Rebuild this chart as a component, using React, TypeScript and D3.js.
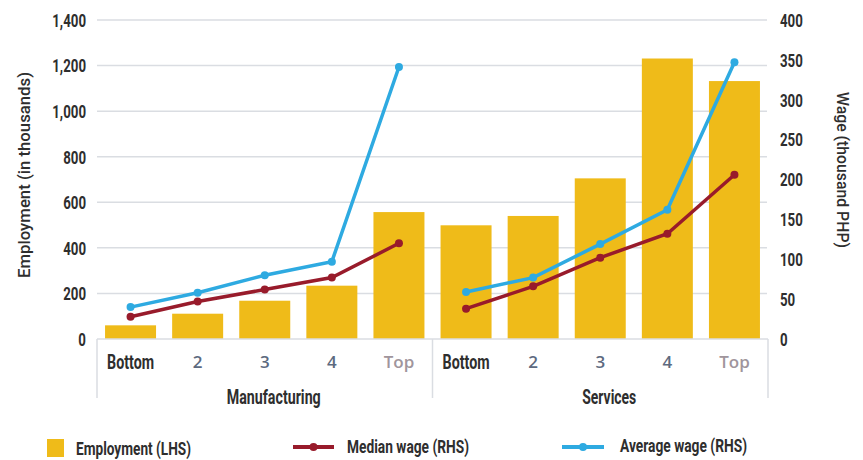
import React from "react";
import * as d3 from "d3";

const categories = ["Bottom", "2", "3", "4", "Top"];
const groups = ["Manufacturing", "Services"];
const employmentManufacturing = [60, 111, 168, 234, 557];
const employmentServices = [499, 540, 705, 1231, 1132];
const medianWageManufacturing = [28, 47, 62, 77, 120];
const medianWageServices = [38, 66, 102, 132, 206];
const averageWageManufacturing = [40, 58, 80, 97, 341];
const averageWageServices = [59, 77, 119, 162, 347];
const leftTicks = [0, 200, 400, 600, 800, 1000, 1200, 1400];
const rightTicks = [0, 50, 100, 150, 200, 250, 300, 350, 400];

const W = 863;
const H = 460;
const COND = "Roboto, 'DejaVu Sans', sans-serif";
const PLAIN = "'Open Sans', Roboto, sans-serif";
const YELLOW = "#EFBB19";
const RED = "#981B2B";
const BLUE = "#2EAAE1";
const GRID = "#DADDE2";
const INK = "#2e2e2e";

type CTProps = {
  x: number; y: number; anchor?: string; size: number; weight?: string | number; fill?: string;
  len?: number; sx?: number; rotate?: number; family?: string; children: React.ReactNode;
};

function CT({ x, y, anchor = "start", size, weight = "bold", fill = INK, len, sx = 1, rotate = 0, family = COND, children }: CTProps) {
  return (
    <g transform={`translate(${x},${y}) rotate(${rotate}) scale(${sx},1)`}>
      <text
        x={0}
        y={0}
        dy="0.36em"
        textAnchor={anchor}
        fontSize={size}
        fontWeight={weight}
        fill={fill}
        fontFamily={family}
        textLength={len}
        lengthAdjust={len ? "spacingAndGlyphs" : undefined}
      >
        {children}
      </text>
    </g>
  );
}

export default function App() {
  const left = 97, right = 768, top = 20, bottom = 339;
  const x0 = d3.scaleBand<string>().domain(groups).range([left, right]).padding(0);
  const x1 = d3.scaleBand<string>().domain(categories).range([0, x0.bandwidth()]).paddingInner(0.24).paddingOuter(0.12);
  const xc = d3.scaleBand<string>().domain(categories).range([0, x0.bandwidth()]);
  const yL = d3.scaleLinear().domain([0, 1400]).range([bottom, top]);
  const yR = d3.scaleLinear().domain([0, 400]).range([bottom, top]);

  const series = groups.map((g, gi) => ({
    group: g,
    emp: gi === 0 ? employmentManufacturing : employmentServices,
    med: gi === 0 ? medianWageManufacturing : medianWageServices,
    avg: gi === 0 ? averageWageManufacturing : averageWageServices,
  }));

  const cx = (g: string, c: string) => (x0(g) ?? 0) + (xc(c) ?? 0) + xc.bandwidth() / 2;
  const line = d3.line<[number, number]>().x((d) => d[0]).y((d) => d[1]);

  const groupLen: Record<string, number> = { Manufacturing: 94, Services: 54 };

  return (
    <svg width={W} height={H} style={{ position: "absolute", left: 0, top: 0, background: "#fff" }}>
      {leftTicks.filter((t) => t > 0).map((t) => (
        <line key={"g" + t} x1={left} x2={right - 1} y1={yL(t)} y2={yL(t)} stroke={GRID} strokeWidth={1.5} />
      ))}
      {series.map((s) =>
        categories.map((c, i) => (
          <rect key={s.group + c} x={(x0(s.group) ?? 0) + (x1(c) ?? 0)} width={x1.bandwidth()} y={yL(s.emp[i])} height={bottom - yL(s.emp[i])} fill={YELLOW} />
        ))
      )}
      <line x1={left} x2={right} y1={bottom} y2={bottom} stroke={GRID} strokeWidth={1.5} />
      {[...groups.map((g) => x0(g) ?? 0), right].map((x, i) => (
        <line key={"v" + i} x1={x} x2={x} y1={bottom} y2={398} stroke={GRID} strokeWidth={1.5} />
      ))}
      {series.map((s) => {
        const med = categories.map((c, i) => [cx(s.group, c), yR(s.med[i])] as [number, number]);
        const avg = categories.map((c, i) => [cx(s.group, c), yR(s.avg[i])] as [number, number]);
        return (
          <g key={"l" + s.group}>
            <path d={line(med) ?? ""} fill="none" stroke={RED} strokeWidth={3.5} />
            {med.map((p, i) => <circle key={i} cx={p[0]} cy={p[1]} r={4} fill={RED} />)}
            <path d={line(avg) ?? ""} fill="none" stroke={BLUE} strokeWidth={3.5} />
            {avg.map((p, i) => <circle key={i} cx={p[0]} cy={p[1]} r={4} fill={BLUE} />)}
          </g>
        );
      })}
      {leftTicks.map((t) => (
        <CT key={"lt" + t} x={86} y={yL(t)} anchor="end" size={19} sx={0.7}>
          {d3.format(",")(t)}
        </CT>
      ))}
      {rightTicks.map((t) => (
        <CT key={"rt" + t} x={780} y={yR(t)} anchor="start" size={19} sx={0.7}>
          {String(t)}
        </CT>
      ))}
      {groups.map((g) =>
        categories.map((c) =>
          c === "Bottom" ? (
            <CT key={g + c + "t"} x={cx(g, c)} y={362} anchor="middle" size={20} len={47}>
              {c}
            </CT>
          ) : (
            <CT key={g + c + "t"} x={cx(g, c)} y={362} anchor="middle" size={17} weight={600} family={PLAIN} fill={c === "Top" ? "#a0959c" : "#5d6a80"}>
              {c}
            </CT>
          )
        )
      )}
      {groups.map((g) => (
        <CT key={g + "gl"} x={(x0(g) ?? 0) + x0.bandwidth() / 2 + 9} y={397} anchor="middle" size={20} len={groupLen[g]}>
          {g}
        </CT>
      ))}
      <CT x={24} y={175} rotate={-90} anchor="middle" size={17} weight={500} len={206}>
        Employment (in thousands)
      </CT>
      <CT x={843} y={170} rotate={90} anchor="middle" size={17} weight={500} len={156}>
        Wage (thousand PHP)
      </CT>
      <rect x={47} y={439} width={17} height={18} fill={YELLOW} />
      <CT x={76} y={448} size={19} len={115}>Employment (LHS)</CT>
      <line x1={293} x2={334} y1={447} y2={447} stroke={RED} strokeWidth={4} />
      <circle cx={313.5} cy={447} r={4} fill={RED} />
      <CT x={347} y={446} size={19} len={122}>Median wage (RHS)</CT>
      <line x1={562} x2={604} y1={447} y2={447} stroke={BLUE} strokeWidth={4} />
      <circle cx={583} cy={447} r={4} fill={BLUE} />
      <CT x={620} y={445} size={19} len={127}>Average wage (RHS)</CT>
    </svg>
  );
}
